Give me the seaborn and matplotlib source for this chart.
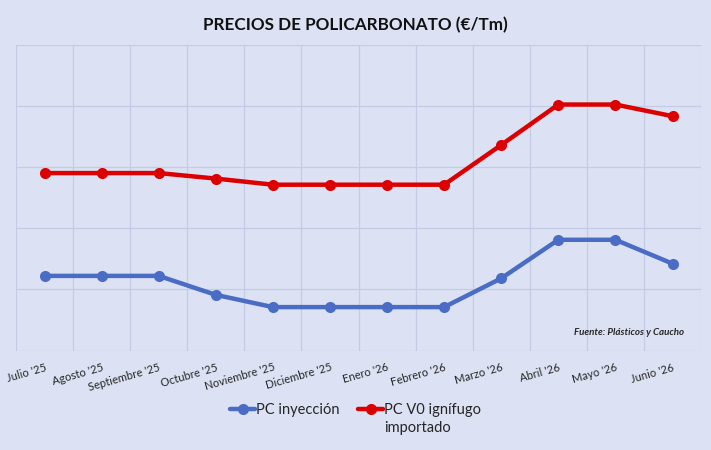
import pandas as pd
import seaborn as sns
import matplotlib.pyplot as plt
from matplotlib.ticker import MultipleLocator

# datos (eje Y sin etiquetas, escala estimada)
meses = ["Julio '25", "Agosto '25", "Septiembre '25", "Octubre '25", "Noviembre '25",
         "Diciembre '25", "Enero '26", "Febrero '26", "Marzo '26", "Abril '26",
         "Mayo '26", "Junio '26"]
pc_inyeccion = [2110, 2110, 2110, 1955, 1855, 1855, 1855, 1855, 2090, 2405, 2405, 2210]
pc_v0 = [2950, 2950, 2950, 2905, 2855, 2855, 2855, 2855, 3180, 3510, 3510, 3415]
series = ["PC inyección", "PC V0 ignífugo"]
colores = ["#4a6cc4", "#dc0000"]

df = pd.DataFrame({
    'pos': list(range(len(meses))) * 2,
    'precio': pc_inyeccion + pc_v0,
    'serie': [series[0]] * len(meses) + [series[1]] * len(meses),
})

fondo = '#dce2f3'
sns.set_theme(style='white')
plt.rcParams['font.family'] = ['Lato', 'DejaVu Sans']

fig = plt.figure(figsize=(7.11, 4.5), dpi=100, facecolor=fondo)
ax = fig.add_axes([0.0225, 0.221, 0.9635, 0.68])
ax.set_facecolor(fondo)

sns.lineplot(data=df, x='pos', y='precio', hue='serie', palette=colores,
             marker='o', markersize=8, markeredgewidth=0, linewidth=3.2,
             ax=ax, legend=True)

ax.set_xlim(-0.5, len(meses) - 0.5)
ax.set_ylim(1500, 4000)
ax.yaxis.set_major_locator(MultipleLocator(500))
ax.set_yticklabels([])
ax.set_xticks(range(len(meses)))
ax.set_xticklabels(meses, rotation=16, ha='right', rotation_mode='anchor', fontsize=8)
ax.set_xticks([i - 0.5 for i in range(len(meses) + 1)], minor=True)
ax.tick_params(axis='both', which='both', length=0)
ax.tick_params(axis='x', which='major', pad=8)
ax.grid(True, which='minor', axis='x', color='#c3cbe8', linewidth=0.9)
ax.grid(True, which='major', axis='y', color='#c3cbe8', linewidth=0.9)
for s in ax.spines.values():
    s.set_visible(False)
ax.set_xlabel('')
ax.set_ylabel('')

ax.text(0.975, 0.06, 'Fuente: Plásticos y Caucho', transform=ax.transAxes,
        ha='right', va='center', fontsize=7, fontweight='bold', style='italic')

fig.text(0.5, 0.945, 'PRECIOS DE POLICARBONATO (€/Tm)', ha='center', va='center',
         fontsize=12.3, fontweight='bold', color='#111111')

h, l = ax.get_legend_handles_labels()
leg = ax.legend(h, l, loc='center', bbox_to_anchor=(0.5, 0.089), bbox_transform=fig.transFigure,
                ncol=2, frameon=False, fontsize=10.5, handlelength=1.7, handletextpad=0.05,
                columnspacing=1.3)

# segunda linea de la etiqueta roja, alineada con el texto de la leyenda
fig.canvas.draw()
bb = leg.get_texts()[1].get_window_extent().transformed(fig.transFigure.inverted())
fig.text(bb.x0, bb.y0 - 0.008, 'importado', ha='left', va='top', fontsize=10.5)

fig.savefig('out.png', dpi=100, facecolor=fondo)
